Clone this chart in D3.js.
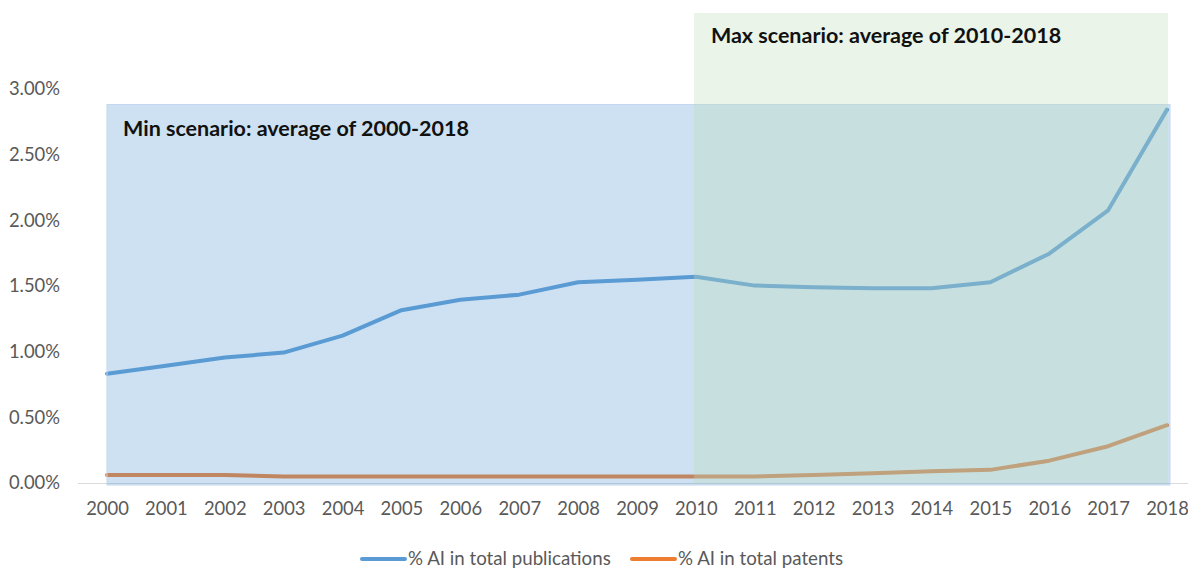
<!DOCTYPE html>
<html>
<head>
<meta charset="utf-8">
<script src="https://cdn.jsdelivr.net/npm/d3@7/dist/d3.min.js"></script>
<style>
  html, body { margin: 0; padding: 0; background: #ffffff; }
  svg { display: block; font-family: Lato, "Open Sans", sans-serif; }
</style>
</head>
<body>
<svg id="chart" width="1188" height="570"></svg>
<script>
// Share of AI in total publications and patents, 2000-2018 (%)
const years = ["2000","2001","2002","2003","2004","2005","2006","2007","2008","2009",
               "2010","2011","2012","2013","2014","2015","2016","2017","2018"];
const publications = [0.832, 0.893, 0.955, 0.993, 1.122, 1.316, 1.396, 1.434, 1.529, 1.548,
                      1.571, 1.503, 1.490, 1.483, 1.483, 1.529, 1.746, 2.076, 2.843];
const patents = [0.060, 0.060, 0.060, 0.050, 0.050, 0.050, 0.050, 0.050, 0.050, 0.050,
                 0.050, 0.050, 0.060, 0.075, 0.090, 0.100, 0.170, 0.280, 0.440];
const yTicks = [0, 0.5, 1, 1.5, 2, 2.5, 3];
const seriesNames = ["% AI in total publications", "% AI in total patents"];
const seriesColors = ["#5b9bd5", "#ed7d31"];
const scenarioLabels = ["Min scenario: average of 2000-2018", "Max scenario: average of 2010-2018"];

const svg = d3.select("#chart");

const x = d3.scalePoint().domain(years).range([107, 1167]);
const y = d3.scaleLinear().domain([0, 3]).range([483, 89]);

// category axis baseline
svg.append("line")
  .attr("x1", 78).attr("x2", 1188)
  .attr("y1", y(0) + 0.5).attr("y2", y(0) + 0.5)
  .attr("stroke", "#d9d9d9").attr("stroke-width", 1);

// y axis labels
const yAxis = svg.append("g")
  .attr("transform", "translate(64,0)")
  .call(d3.axisLeft(y).tickValues(yTicks).tickSize(0).tickPadding(4)
        .tickFormat(d => d3.format(".2f")(d) + "%"));
yAxis.select(".domain").remove();
yAxis.selectAll("text")
  .attr("fill", "#595959")
  .style("font-size", "18.4px")
  .style("font-family", "Lato, 'Open Sans', sans-serif");

// x axis labels
const xAxis = svg.append("g")
  .attr("transform", `translate(0,${y(0)})`)
  .call(d3.axisBottom(x).tickSize(0).tickPadding(19));
xAxis.select(".domain").remove();
xAxis.selectAll("text")
  .attr("fill", "#595959")
  .style("font-size", "18.4px")
  .style("font-family", "Lato, 'Open Sans', sans-serif");

// series lines
const line = d3.line()
  .x((d, i) => x(years[i]))
  .y(d => y(d));

[publications, patents].forEach((vals, k) => {
  svg.append("path")
    .datum(vals)
    .attr("fill", "none")
    .attr("stroke", seriesColors[k])
    .attr("stroke-width", 4)
    .attr("stroke-linejoin", "round")
    .attr("stroke-linecap", "round")
    .attr("d", line);
});

// scenario overlays (translucent, drawn over the lines)
const minX0 = x("2000"), minX1 = x("2018") + 3;
const maxX0 = x("2010") - 2, maxX1 = x("2018") + 1;
const minTop = 104.5, maxTop = 13;

svg.append("rect")
  .attr("x", minX0).attr("y", minTop)
  .attr("width", minX1 - minX0).attr("height", y(0) + 2 - minTop)
  .attr("fill", "#5b9bd5").attr("fill-opacity", 0.3)
  .attr("stroke", "#c3d8ee").attr("stroke-width", 1);

svg.append("rect")
  .attr("x", maxX0).attr("y", maxTop)
  .attr("width", maxX1 - maxX0).attr("height", y(0) - maxTop)
  .attr("fill", "#bddeb8").attr("fill-opacity", 0.32);

svg.append("text")
  .attr("x", minX0 + 16).attr("y", 136)
  .attr("fill", "#111111")
  .style("font-size", "21.5px").style("font-weight", "bold")
  .text(scenarioLabels[0]);

svg.append("text")
  .attr("x", maxX0 + 17).attr("y", 43)
  .attr("fill", "#111111")
  .style("font-size", "21.5px").style("font-weight", "bold")
  .text(scenarioLabels[1]);

// legend
const legendItems = [
  { name: seriesNames[0], color: seriesColors[0], x: 362 },
  { name: seriesNames[1], color: seriesColors[1], x: 632 }
];
const lg = svg.append("g");
legendItems.forEach(it => {
  lg.append("line")
    .attr("x1", it.x).attr("x2", it.x + 43)
    .attr("y1", 559).attr("y2", 559)
    .attr("stroke", it.color).attr("stroke-width", 4)
    .attr("stroke-linecap", "round");
  lg.append("text")
    .attr("x", it.x + 46).attr("y", 565)
    .attr("fill", "#595959")
    .style("font-size", "18.7px")
    .text(it.name);
});
</script>
</body>
</html>
